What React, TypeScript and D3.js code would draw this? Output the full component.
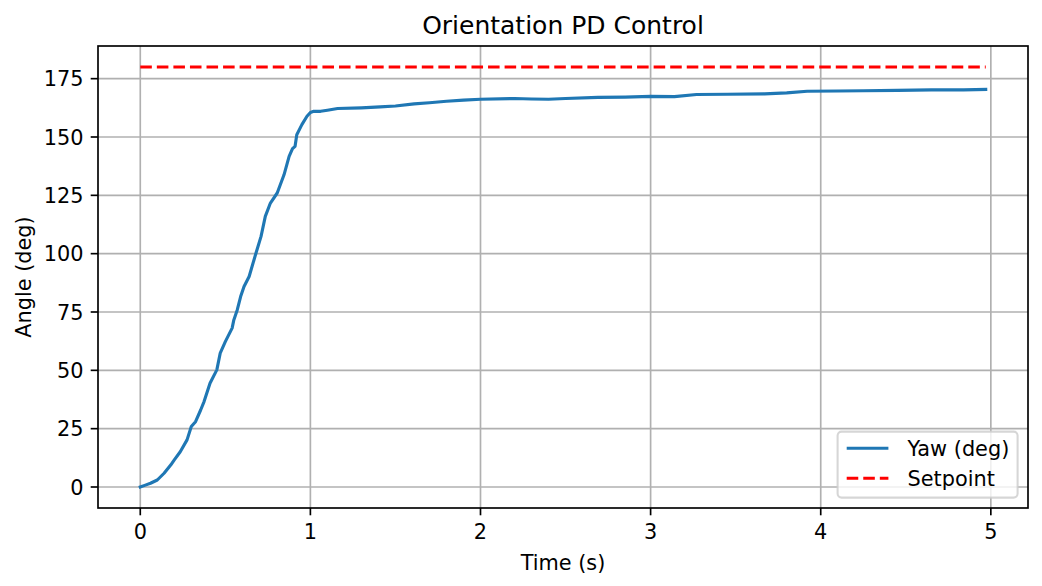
import React from "react";
import * as d3 from "d3";

const time = [
  0, 0.03, 0.06, 0.1, 0.14, 0.18, 0.2, 0.235, 0.275, 0.3,
  0.325, 0.355, 0.375, 0.41, 0.45, 0.47, 0.5, 0.54, 0.55, 0.57,
  0.59, 0.61, 0.64, 0.68, 0.71, 0.735, 0.765, 0.805, 0.845, 0.875,
  0.895, 0.91, 0.92, 0.95, 0.98, 1.0, 1.02, 1.06, 1.1, 1.16,
  1.3, 1.41, 1.5, 1.61, 1.7, 1.8, 1.9, 2.0, 2.2, 2.3,
  2.4, 2.5, 2.69, 2.85, 3.0, 3.14, 3.27, 3.45, 3.67, 3.8,
  3.92, 4.1, 4.25, 4.45, 4.65, 4.84, 4.97,
];
const yaw = [
  0, 0.8, 1.6, 3, 5.9, 9.5, 11.6, 15.1, 20.2, 25.9,
  28, 33, 36.6, 44.5, 50.2, 57.4, 62.3, 68.1, 71.6, 75.9,
  81.6, 85.9, 90.2, 100.2, 107.4, 116, 121.7, 126, 133.8, 141.7,
  145, 146, 151, 155.3, 158.9, 160.5, 161, 161, 161.5, 162.2,
  162.5, 162.9, 163.3, 164.2, 164.7, 165.3, 165.8, 166.2, 166.5, 166.3,
  166.2, 166.5, 167, 167.1, 167.4, 167.3, 168.2, 168.3, 168.5, 168.9,
  169.6, 169.7, 169.8, 170, 170.2, 170.2, 170.4,
];
const setpointValue = 180;
const setpoint = time.map(() => setpointValue);

const xTicks = [0, 1, 2, 3, 4, 5];
const yTicks = [0, 25, 50, 75, 100, 125, 150, 175];

const title = "Orientation PD Control";
const xLabel = "Time (s)";
const yLabel = "Angle (deg)";
const legendLabels = ["Yaw (deg)", "Setpoint"];

const W = 1042;
const H = 586;
const L = 98, R = 1028, T = 46, B = 508;
const FONT = "'DejaVu Sans', sans-serif";
const FS = 20.83;

export default function App() {
  const x = d3.scaleLinear().domain([-0.2485, 5.2185]).range([L, R]);
  const y = d3.scaleLinear().domain([-9, 189]).range([B, T]);

  const yawPts: [number, number][] = time.map((t, i) => [t, yaw[i]]);
  const spPts: [number, number][] = time.map((t, i) => [t, setpoint[i]]);
  const line = d3
    .line<[number, number]>()
    .x((d) => x(d[0]))
    .y((d) => y(d[1]));

  const legW = 180;
  const legH = 66;
  const legX = R - 10.4 - legW;
  const legY = B - 10.4 - legH;

  return (
    <svg
      width={W}
      height={H}
      style={{ position: "absolute", left: 0, top: 0, background: "#fff" }}
      fontFamily={FONT}
    >
      <rect x={0} y={0} width={W} height={H} fill="#fff" />
      {/* grid */}
      <g stroke="#b0b0b0" strokeWidth={1.67}>
        {xTicks.map((t) => (
          <line key={"gx" + t} x1={x(t)} x2={x(t)} y1={T} y2={B} />
        ))}
        {yTicks.map((t) => (
          <line key={"gy" + t} x1={L} x2={R} y1={y(t)} y2={y(t)} />
        ))}
      </g>
      <defs>
        <clipPath id="clip">
          <rect x={L} y={T} width={R - L} height={B - T} />
        </clipPath>
      </defs>
      <g clipPath="url(#clip)">
        <path
          d={line(yawPts) || ""}
          fill="none"
          stroke="#1f77b4"
          strokeWidth={3.125}
          strokeLinejoin="round"
          strokeLinecap="square"
        />
        <path
          d={line(spPts) || ""}
          fill="none"
          stroke="#ff0000"
          strokeWidth={3.125}
          strokeDasharray="11.56 5"
        />
      </g>
      {/* spines */}
      <rect
        x={L}
        y={T}
        width={R - L}
        height={B - T}
        fill="none"
        stroke="#000"
        strokeWidth={1.67}
      />
      {/* x ticks */}
      {xTicks.map((t) => (
        <g key={"xt" + t}>
          <line x1={x(t)} x2={x(t)} y1={B} y2={B + 7.3} stroke="#000" strokeWidth={1.67} />
          <text x={x(t)} y={539} textAnchor="middle" fontSize={FS} fill="#000">
            {t}
          </text>
        </g>
      ))}
      {/* y ticks */}
      {yTicks.map((t) => (
        <g key={"yt" + t}>
          <line x1={L - 7.3} x2={L} y1={y(t)} y2={y(t)} stroke="#000" strokeWidth={1.67} />
          <text x={83.4} y={y(t) + 7.6} textAnchor="end" fontSize={FS} fill="#000">
            {t}
          </text>
        </g>
      ))}
      {/* labels */}
      <text x={(L + R) / 2} y={570} textAnchor="middle" fontSize={FS} fill="#000">
        {xLabel}
      </text>
      <text
        transform={`translate(30.5, ${(T + B) / 2}) rotate(-90)`}
        textAnchor="middle"
        fontSize={FS}
        fill="#000"
      >
        {yLabel}
      </text>
      <text x={(L + R) / 2} y={33.5} textAnchor="middle" fontSize={25} fill="#000">
        {title}
      </text>
      {/* legend */}
      <g>
        <rect
          x={legX}
          y={legY}
          width={legW}
          height={legH}
          rx={4}
          fill="#fff"
          fillOpacity={0.8}
          stroke="#cccccc"
          strokeOpacity={0.8}
          strokeWidth={2.08}
        />
        <line x1={846.7} x2={888.4} y1={448.3} y2={448.3} stroke="#1f77b4" strokeWidth={3.125} />
        <line
          x1={846.7}
          x2={888.4}
          y1={478.3}
          y2={478.3}
          stroke="#ff0000"
          strokeWidth={3.125}
          strokeDasharray="11.56 5"
        />
        <text x={907.5} y={448.3 + 7.6} fontSize={FS} fill="#000">
          {legendLabels[0]}
        </text>
        <text x={907.5} y={478.3 + 7.6} fontSize={FS} fill="#000">
          {legendLabels[1]}
        </text>
      </g>
    </svg>
  );
}
